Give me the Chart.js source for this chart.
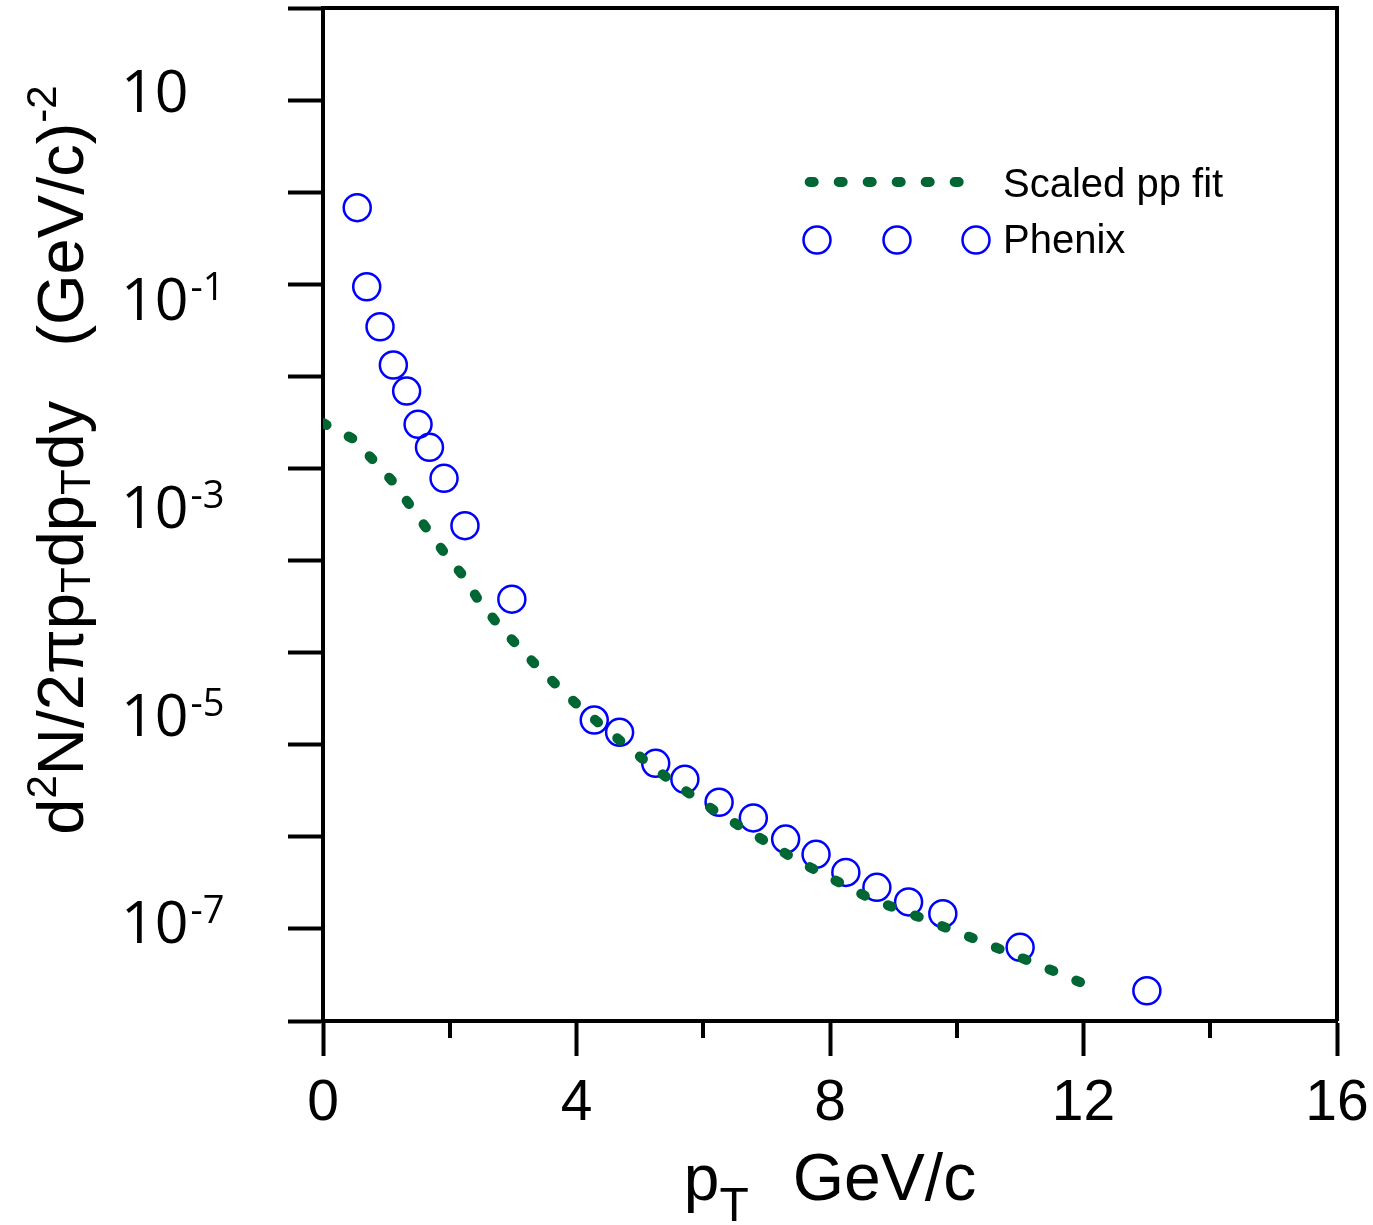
<!DOCTYPE html>
<html>
<head>
<meta charset="utf-8">
<script src="https://cdn.jsdelivr.net/npm/chart.js@4.4.1/dist/chart.umd.min.js"></script>
<style>
html,body{margin:0;padding:0;background:#ffffff;}
canvas{display:block;}
</style>
</head>
<body>
<canvas id="c" width="1373" height="1225"></canvas>
<script>
// ---------- data ----------
const seriesNames = ['Scaled pp fit', 'Phenix'];

const phenixPt = [0.54, 0.69, 0.90, 1.11, 1.32, 1.50, 1.68, 1.91, 2.24, 2.98,
                  4.28, 4.68, 5.25, 5.71, 6.25, 6.79, 7.30, 7.78, 8.25, 8.74,
                  9.24, 9.78, 11.0, 13.0];
const phenixYield = [0.759, 0.1315, 0.0542, 0.0232, 0.0130, 0.00622, 0.00374, 0.00188, 6.58e-4, 1.29e-4,
                     8.85e-6, 6.74e-6, 3.39e-6, 2.38e-6, 1.43e-6, 1.01e-6, 6.32e-7, 4.51e-7, 3.02e-7, 2.17e-7,
                     1.57e-7, 1.21e-7, 5.73e-8, 2.19e-8];

const fitPt = [0.0, 0.48, 0.79, 1.10, 1.37, 1.64, 1.91, 2.21, 2.45, 2.74,
               3.05, 3.37, 3.70, 4.02, 4.39, 4.74, 5.10, 5.46, 5.84, 6.23,
               6.62, 7.02, 7.41, 7.82, 8.23, 8.63, 9.07, 9.50, 9.92, 10.36,
               10.78, 11.21, 11.64, 12.13];
const fitYield = [6.41e-3, 4.50e-3, 2.83e-3, 1.75e-3, 1.04e-3, 6.11e-4, 3.65e-4, 2.17e-4, 1.27e-4, 7.66e-5,
                  4.74e-5, 2.95e-5, 1.88e-5, 1.23e-5, 7.92e-6, 5.28e-6, 3.52e-6, 2.38e-6, 1.64e-6, 1.13e-6,
                  8.12e-7, 5.83e-7, 4.18e-7, 3.06e-7, 2.28e-7, 1.70e-7, 1.34e-7, 1.07e-7, 8.41e-8, 6.64e-8,
                  5.20e-8, 4.07e-8, 3.17e-8, 2.38e-8];

const xMin = 0, xMax = 16, xStep = 2, xLabelEvery = 4;
const yMin = 1.12e-8, yMax = 63.5;
const yLabelExponents = [1, -1, -3, -5, -7];

const GREEN = '#006633';
const BLUE = '#0000ff';
const BLACK = '#000000';

// ---------- helpers ----------
function drawRich(ctx, segs, x, y, align) {
  let total = 0;
  const widths = segs.map(s => {
    ctx.font = s.size + 'px ' + (s.family || '"Liberation Sans", Arial, sans-serif');
    const w = ctx.measureText(s.t).width + (s.gap || 0);
    total += w; return w;
  });
  let cx = align === 'center' ? x - total / 2 : (align === 'right' ? x - total : x);
  segs.forEach((s, i) => {
    ctx.font = s.size + 'px ' + (s.family || '"Liberation Sans", Arial, sans-serif');
    ctx.fillText(s.t, cx + (s.pre || 0), y + (s.dy || 0));
    cx += widths[i];
  });
  return total;
}

const decorPlugin = {
  id: 'decor',
  afterDraw(chart) {
    const ctx = chart.ctx, ca = chart.chartArea;
    const xs = chart.scales.x, ys = chart.scales.y;
    ctx.save();
    // frame top + right
    ctx.strokeStyle = BLACK; ctx.lineWidth = 4; ctx.lineCap = 'butt';
    ctx.beginPath();
    ctx.moveTo(Math.round(ca.left), Math.round(ca.top));
    ctx.lineTo(Math.round(ca.right), Math.round(ca.top));
    ctx.moveTo(Math.round(ca.right), Math.round(ca.top) - 2);
    ctx.lineTo(Math.round(ca.right), Math.round(ca.bottom));
    ctx.stroke();
    // minor x ticks
    ctx.beginPath();
    xs.ticks.forEach(t => {
      if (t.value % xLabelEvery !== 0) {
        const px = Math.round(xs.getPixelForValue(t.value));
        ctx.moveTo(px, ca.bottom);
        ctx.lineTo(px, ca.bottom + 17);
      }
    });
    ctx.stroke();

    // y tick labels 10^n
    ctx.fillStyle = BLACK;
    ctx.textBaseline = 'alphabetic';
    ctx.textAlign = 'left';
    yLabelExponents.forEach(e => {
      const py = ys.getPixelForValue(Math.pow(10, e));
      const segs = [{t: '10', size: 59, dy: 21, family: '"Open Sans", sans-serif'}];
      if (e !== 1) segs.push({t: '-' + Math.abs(e), size: 38, dy: 1, pre: 2, family: '"Open Sans", sans-serif'});
      drawRich(ctx, segs, 121, py, 'left');
    });

    // x title: p_T  GeV/c
    ctx.textAlign = 'left';
    const xc = (ca.left + ca.right) / 2;
    drawRich(ctx, [
      {t: 'p', size: 64},
      {t: 'T', size: 48, dy: 21, gap: 44},
      {t: 'GeV/c', size: 66}
    ], xc, 1200, 'center');

    // y title (rotated)
    ctx.save();
    ctx.translate(83, 460);
    ctx.rotate(-Math.PI / 2);
    const F = 65, f = 42;
    const ySegs = [
      {t: 'd', size: F},
      {t: '2', size: f, dy: -0.42 * F},
      {t: 'N/2\u03C0p', size: F},
      {t: 'T', size: f, dy: 0.1 * F},
      {t: 'dp', size: F},
      {t: 'T', size: f, dy: 0.1 * F},
      {t: 'dy   (GeV/c)', size: F},
      {t: '-2', size: f, dy: -0.42 * F}
    ];
    drawRich(ctx, ySegs, 0, 0, 'center');
    ctx.restore();

    // legend
    const dsFit = chart.data.datasets[0], dsPh = chart.data.datasets[1];
    ctx.save();
    ctx.strokeStyle = dsFit.borderColor;
    ctx.lineWidth = dsFit.borderWidth;
    ctx.lineCap = dsFit.borderCapStyle;
    ctx.setLineDash(dsFit.borderDash);
    ctx.beginPath();
    ctx.moveTo(809.7, 182);
    ctx.lineTo(962, 182);
    ctx.stroke();
    ctx.restore();
    ctx.save();
    ctx.strokeStyle = dsPh.pointBorderColor;
    ctx.lineWidth = dsPh.pointBorderWidth;
    [817, 897, 976].forEach(cx => {
      ctx.beginPath();
      ctx.arc(cx, 240, dsPh.pointRadius, 0, Math.PI * 2);
      ctx.stroke();
    });
    ctx.restore();
    ctx.fillStyle = BLACK;
    ctx.font = '40px "Liberation Sans", Arial, sans-serif';
    ctx.textAlign = 'left';
    ctx.textBaseline = 'alphabetic';
    ctx.fillText(seriesNames[0], 1003, 197);
    ctx.fillText(seriesNames[1], 1003, 253);
    ctx.restore();
  }
};

const ctx = document.getElementById('c').getContext('2d');
new Chart(ctx, {
  type: 'scatter',
  data: {
    datasets: [
      {
        label: seriesNames[0],
        data: fitPt.map((x, i) => ({x: x, y: fitYield[i]})),
        showLine: true,
        borderColor: GREEN,
        borderWidth: 10,
        borderDash: [4, 25],
        borderCapStyle: 'round',
        borderJoinStyle: 'round',
        pointRadius: 0,
        pointHoverRadius: 0,
        fill: false,
        tension: 0,
        order: 0
      },
      {
        label: seriesNames[1],
        data: phenixPt.map((x, i) => ({x: x, y: phenixYield[i]})),
        showLine: false,
        pointStyle: 'circle',
        pointRadius: 13.5,
        pointHoverRadius: 13.5,
        pointBorderWidth: 2.5,
        pointBorderColor: BLUE,
        pointBackgroundColor: 'rgba(0,0,0,0)',
        order: 1
      }
    ]
  },
  options: {
    responsive: false,
    animation: false,
    devicePixelRatio: 1,
    events: [],
    layout: {autoPadding: false, padding: {left: 122, top: 8, right: 36, bottom: 0}},
    plugins: {legend: {display: false}, tooltip: {enabled: false}},
    scales: {
      x: {
        type: 'linear',
        position: 'bottom',
        min: xMin, max: xMax,
        ticks: {
          stepSize: xStep, autoSkip: false, maxRotation: 0, minRotation: 0,
          padding: 14, color: BLACK,
          font: {family: '"Liberation Sans", Arial, sans-serif', size: 57},
          callback: v => (v % xLabelEvery === 0 ? String(v) : '')
        },
        grid: {
          display: true, drawOnChartArea: false, drawTicks: true,
          tickLength: 35, tickWidth: 4,
          tickColor: c => (c.tick && c.tick.value % xLabelEvery === 0) ? BLACK : 'rgba(0,0,0,0)'
        },
        border: {display: true, color: BLACK, width: 4},
        afterFit: s => { s.height = 204; s.paddingLeft = 0; s.paddingRight = 0; s.paddingTop = 0; s.paddingBottom = 0; }
      },
      y: {
        type: 'logarithmic',
        position: 'left',
        min: yMin, max: yMax,
        ticks: {display: false},
        grid: {display: true, drawOnChartArea: false, drawTicks: true, tickLength: 35, tickWidth: 4, tickColor: BLACK},
        border: {display: true, color: BLACK, width: 4},
        afterBuildTicks: s => {
          const lo = Math.log10(yMin), hi = Math.log10(yMax), n = 11;
          const t = [];
          for (let k = 0; k <= n; k++) t.push({value: Math.pow(10, hi - k * (hi - lo) / n)});
          s.ticks = t;
        },
        afterFit: s => { s.width = 201; s.paddingLeft = 0; s.paddingRight = 0; s.paddingTop = 0; s.paddingBottom = 0; }
      }
    }
  },
  plugins: [decorPlugin]
});
</script>
</body>
</html>
